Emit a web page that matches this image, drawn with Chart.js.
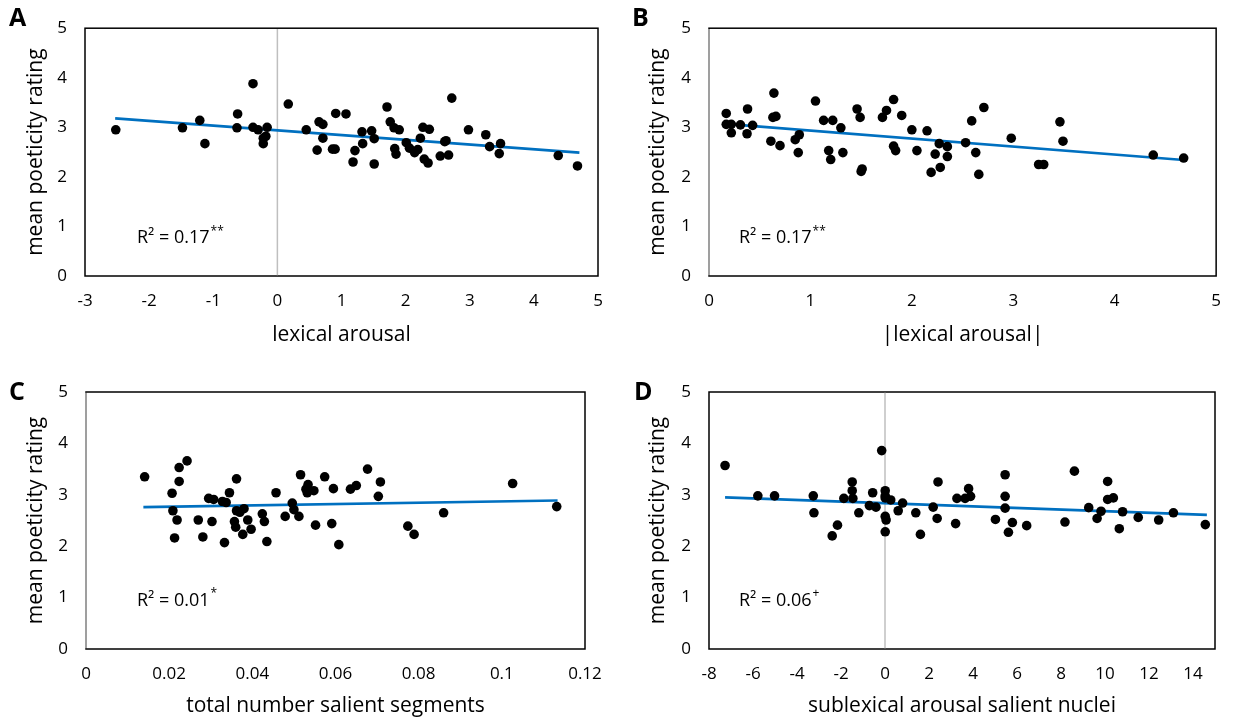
<!DOCTYPE html>
<html><head><meta charset="utf-8">
<script src="https://cdn.jsdelivr.net/npm/chart.js@4.4.1/dist/chart.umd.min.js"></script>
<style>
html,body{margin:0;padding:0;background:#fff;}
#wrap{position:relative;width:1236px;height:722px;overflow:hidden;background:#fff;}
.panel{position:absolute;width:618px;height:361px;}
.lbl{position:absolute;font-family:"Open Sans";font-weight:bold;font-size:25px;color:#000;line-height:1;}
</style></head><body>
<div id="wrap">
<div class="panel" style="left:0;top:0"><canvas id="cA" width="618" height="361"></canvas></div>
<div class="panel" style="left:618px;top:0"><canvas id="cB" width="618" height="361"></canvas></div>
<div class="panel" style="left:0;top:361px"><canvas id="cC" width="618" height="361"></canvas></div>
<div class="panel" style="left:618px;top:361px"><canvas id="cD" width="618" height="361"></canvas></div>
<div class="lbl" style="left:9px;top:4px">A</div>
<div class="lbl" style="left:632px;top:4px">B</div>
<div class="lbl" style="left:9px;top:378px">C</div>
<div class="lbl" style="left:634px;top:378px">D</div>
</div>
<script>
// ---------- DATA ----------
const yTicks = [0, 1, 2, 3, 4, 5];
const xTicksA = [-3, -2, -1, 0, 1, 2, 3, 4, 5];
const xTicksB = [0, 1, 2, 3, 4, 5];
const xTicksC = [0, 0.02, 0.04, 0.06, 0.08, 0.1, 0.12];
const xTicksD = [-8, -6, -4, -2, 0, 2, 4, 6, 8, 10, 12, 14];

const lexArousalX = [-2.52,-1.48,-1.21,-1.13,-0.62,-0.63,-0.38,-0.38,-0.30,-0.16,-0.18,-0.22,-0.22,0.17,0.45,0.65,0.71,0.71,0.62,0.86,0.90,0.91,1.07,1.21,1.18,1.33,1.32,1.47,1.51,1.51,1.71,1.76,1.82,1.90,1.83,1.85,2.01,2.06,2.14,2.19,2.23,2.27,2.37,2.29,2.35,2.54,2.61,2.63,2.67,2.72,2.98,3.25,3.31,3.48,3.46,4.38,4.68];
const lexArousalY = [2.95,2.99,3.14,2.67,3.27,2.99,3.88,3.00,2.95,3.00,2.82,2.78,2.67,3.47,2.95,3.11,3.06,2.78,2.54,2.56,2.56,3.28,3.27,2.53,2.30,2.67,2.91,2.93,2.77,2.26,3.41,3.11,2.99,2.95,2.57,2.46,2.69,2.58,2.49,2.55,2.78,3.00,2.96,2.36,2.28,2.42,2.71,2.73,2.44,3.59,2.95,2.85,2.61,2.67,2.47,2.43,2.22];
const trendAX = [-2.53, 4.71];
const trendAY = [3.18, 2.49];

const absArousalX = [0.17,0.17,0.22,0.22,0.31,0.38,0.375,0.43,0.64,0.63,0.66,0.61,0.70,0.85,0.89,0.88,1.05,1.13,1.22,1.30,1.18,1.20,1.32,1.46,1.49,1.51,1.50,1.71,1.75,1.82,1.90,1.82,1.84,2.00,2.05,2.15,2.27,2.23,2.35,2.35,2.28,2.19,2.53,2.59,2.71,2.63,2.66,2.98,3.25,3.30,3.46,3.49,4.38,4.68];
const absArousalY = [3.28,3.06,3.06,2.89,3.05,3.37,2.87,3.04,3.69,3.20,3.22,2.72,2.63,2.75,2.85,2.49,3.53,3.14,3.14,2.99,2.53,2.35,2.49,3.37,3.20,2.16,2.11,3.20,3.34,3.56,3.24,2.62,2.53,2.95,2.53,2.93,2.67,2.46,2.61,2.41,2.19,2.09,2.69,3.13,3.40,2.49,2.05,2.78,2.25,2.25,3.11,2.72,2.44,2.38];
const trendBX = [0.16, 4.68];
const trendBY = [3.07, 2.34];

const segmentsX = [0.0141,0.0224,0.0243,0.0224,0.0207,0.0209,0.0219,0.0213,0.0270,0.0281,0.0303,0.0295,0.0307,0.0328,0.0337,0.0345,0.0362,0.0333,0.0357,0.0360,0.0362,0.0370,0.0380,0.0389,0.0397,0.0377,0.0424,0.0429,0.0435,0.0457,0.0479,0.0496,0.0500,0.0512,0.0516,0.0534,0.0529,0.0532,0.0548,0.0552,0.0574,0.0591,0.0595,0.0608,0.0636,0.0650,0.0677,0.0708,0.0703,0.0774,0.0789,0.0860,0.1026,0.1132];
const segmentsY = [3.35,3.53,3.66,3.26,3.03,2.69,2.51,2.16,2.51,2.18,2.48,2.93,2.91,2.87,2.85,3.04,3.31,2.07,2.48,2.37,2.69,2.66,2.73,2.51,2.33,2.23,2.63,2.48,2.09,3.04,2.58,2.84,2.71,2.58,3.39,3.20,3.11,3.04,3.08,2.41,3.35,2.44,3.12,2.03,3.11,3.18,3.50,3.25,2.97,2.39,2.23,2.65,3.22,2.77];
const trendCX = [0.0138, 0.1134];
const trendCY = [2.76, 2.89];

const nucleiX = [-7.27,-5.78,-5.02,-3.26,-3.23,-2.40,-2.16,-1.87,-1.49,-1.49,-1.46,-1.19,-0.71,-0.56,-0.41,-0.15,0.01,0.01,0.01,0.26,0.01,0.05,0.01,0.60,0.80,1.40,1.61,2.19,2.37,2.41,3.27,3.21,3.64,3.80,3.89,5.46,5.46,5.46,5.02,5.79,5.61,6.44,8.18,8.61,9.26,9.64,9.82,10.12,10.12,10.38,10.65,10.80,11.51,12.44,13.11,14.56];
const nucleiY = [3.57,2.98,2.98,2.98,2.65,2.20,2.41,2.93,3.25,3.08,2.93,2.65,2.79,3.04,2.76,3.86,3.08,2.98,2.94,2.90,2.58,2.51,2.28,2.69,2.84,2.65,2.23,2.76,2.54,3.25,2.93,2.44,2.93,3.12,2.97,3.39,2.97,2.74,2.52,2.46,2.27,2.40,2.47,3.46,2.75,2.54,2.68,3.26,2.91,2.94,2.34,2.67,2.56,2.51,2.65,2.42];
const trendDX = [-7.27, 14.63];
const trendDY = [2.95, 2.61];

const yTitle = 'mean poeticity rating';
const xTitles = ['lexical arousal', '|lexical arousal|', 'total number salient segments', 'sublexical arousal salient nuclei'];
const r2Main = ['R² = 0.17', 'R² = 0.17', 'R² = 0.01', 'R² = 0.06'];
const r2Sup = ['**', '**', '*', '+'];

// ---------- CHARTS ----------
Chart.defaults.font.family = "'Open Sans'";
Chart.defaults.color = '#000';

const deco = {
  id: 'deco',
  beforeDatasetsDraw(chart, args, o) {
    const {ctx, chartArea: a} = chart;
    const x = chart.scales.x;
    ctx.save();
    ctx.strokeStyle = '#000';
    ctx.lineWidth = 1.5;
    ctx.strokeRect(a.left, a.top, a.right - a.left, a.bottom - a.top);
    const z = x.getPixelForValue(0);
    if (z >= a.left - 1 && z <= a.right) {
      ctx.strokeStyle = '#BFBFBF';
      ctx.lineWidth = 1.5;
      ctx.beginPath();
      ctx.moveTo(z, a.top + 0.8);
      ctx.lineTo(z, a.bottom - 0.8);
      ctx.stroke();
    }
    ctx.restore();
  },
  afterDraw(chart, args, o) {
    const {ctx, chartArea: a} = chart;
    ctx.save();
    ctx.fillStyle = '#000';
    ctx.textBaseline = 'middle';
    ctx.textAlign = 'left';
    ctx.font = "18px 'Open Sans'";
    const tx = a.left + o.dx, ty = a.top + o.dy;
    ctx.fillText(o.main, tx, ty);
    const w = ctx.measureText(o.main).width;
    ctx.font = "12px 'Open Sans'";
    ctx.fillText(o.sup, tx + w + 1, ty - 7);
    ctx.restore();
  }
};

function makeChart(id, p) {
  const pts = p.xs.map((v, i) => ({x: v, y: p.ys[i]}));
  const trend = p.tx.map((v, i) => ({x: v, y: p.ty[i]}));
  return new Chart(document.getElementById(id), {
    type: 'scatter',
    data: {
      datasets: [
        {type: 'line', data: trend, borderColor: '#0070C0', borderWidth: 2.6, pointRadius: 0, fill: false, order: 2},
        {data: pts, backgroundColor: '#000', borderWidth: 0, pointRadius: 4.8, pointHoverRadius: 4.8, order: 1}
      ]
    },
    options: {
      responsive: false,
      animation: false,
      devicePixelRatio: 1,
      layout: {padding: {top: p.padTop, right: p.padRight, left: 0, bottom: 0}},
      plugins: {
        legend: {display: false},
        tooltip: {enabled: false},
        deco: {main: p.r2, sup: p.sup, dx: p.r2dx, dy: p.r2dy}
      },
      scales: {
        x: {
          type: 'linear', position: 'bottom', min: p.xmin, max: p.xmax,
          grid: {display: false, drawTicks: false},
          border: {display: false},
          afterBuildTicks: (s) => { s.ticks = p.xTicks.map(v => ({value: v})); },
          ticks: {padding: 15, font: {size: 17}, color: '#000',
                  callback: (v) => String(+Number(v).toFixed(2))},
          title: {display: true, text: p.xTitle, font: {size: 21}, color: '#000', padding: {top: 0, bottom: p.xTitlePad}},
          afterFit: (s) => { s.height = p.bottomH; }
        },
        y: {
          min: 0, max: 5,
          afterBuildTicks: (s) => { s.ticks = yTicks.map(v => ({value: v})); },
          grid: {display: false, drawTicks: false},
          border: {display: false},
          ticks: {padding: 18, font: {size: 17}, color: '#000'},
          title: {display: true, text: yTitle, font: {size: 21}, color: '#000', padding: {top: p.yTitlePad, bottom: 0}},
          afterFit: (s) => { s.width = p.leftW; }
        }
      }
    },
    plugins: [deco]
  });
}

makeChart('cA', {xs: lexArousalX, ys: lexArousalY, tx: trendAX, ty: trendAY, xmin: -3, xmax: 5, xTicks: xTicksA,
  xTitle: xTitles[0], leftW: 85, bottomH: 85, padTop: 18, padRight: 20, yTitlePad: 23, xTitlePad: 13,
  r2: r2Main[0], sup: r2Sup[0], r2dx: 52, r2dy: 210});
makeChart('cB', {xs: absArousalX, ys: absArousalY, tx: trendBX, ty: trendBY, xmin: 0, xmax: 5, xTicks: xTicksB,
  xTitle: xTitles[1], leftW: 91, bottomH: 85, padTop: 18, padRight: 16, yTitlePad: 27, xTitlePad: 13,
  r2: r2Main[1], sup: r2Sup[1], r2dx: 30, r2dy: 210});
makeChart('cC', {xs: segmentsX, ys: segmentsY, tx: trendCX, ty: trendCY, xmin: 0, xmax: 0.12, xTicks: xTicksC,
  xTitle: xTitles[2], leftW: 86, bottomH: 73, padTop: 31, padRight: 33, yTitlePad: 23, xTitlePad: 3,
  r2: r2Main[2], sup: r2Sup[2], r2dx: 51, r2dy: 209});
makeChart('cD', {xs: nucleiX, ys: nucleiY, tx: trendDX, ty: trendDY, xmin: -8, xmax: 15, xTicks: xTicksD,
  xTitle: xTitles[3], leftW: 91, bottomH: 73, padTop: 31, padRight: 21, yTitlePad: 27, xTitlePad: 3,
  r2: r2Main[3], sup: r2Sup[3], r2dx: 30, r2dy: 209});
</script>
</body></html>
